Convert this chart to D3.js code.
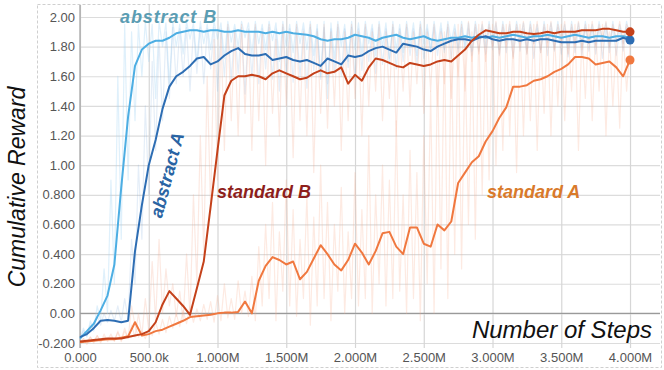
<!DOCTYPE html>
<html><head><meta charset="utf-8">
<script src="https://cdnjs.cloudflare.com/ajax/libs/d3/7.8.5/d3.min.js"></script>
<style>
html,body{margin:0;padding:0;background:#fff;}
svg{display:block;}
</style></head>
<body><svg id="c" width="664" height="370"></svg>
<script>
// ---- data ----
const smoothStep = 50000;   // spacing of smoothed series (steps)
const rawStep = 25000;      // spacing of raw series (steps)

const seriesNames = ["abstract B", "abstract A", "standard A", "standard B"];

const abstractB = [-0.17,-0.12,-0.07,0.02,0.12,0.33,0.85,1.33,1.67,1.78,1.82,1.84,1.84,1.86,1.89,1.90,1.91,1.91,1.90,1.91,
1.91,1.90,1.90,1.91,1.90,1.90,1.90,1.89,1.90,1.89,1.90,1.89,1.885,1.88,1.87,1.85,1.84,1.85,1.85,1.86,
1.88,1.87,1.86,1.84,1.86,1.87,1.88,1.86,1.85,1.86,1.87,1.85,1.84,1.85,1.86,1.86,1.87,1.86,1.87,1.86,
1.87,1.86,1.87,1.88,1.87,1.86,1.87,1.87,1.88,1.87,1.86,1.87,1.88,1.87,1.86,1.87,1.87,1.86,1.87,1.87,1.86];

const abstractA = [-0.16,-0.14,-0.10,-0.05,-0.045,-0.05,-0.06,-0.05,0.42,0.73,1.00,1.17,1.38,1.53,1.60,1.63,1.67,1.72,1.73,1.68,
1.70,1.74,1.77,1.79,1.75,1.74,1.74,1.75,1.71,1.72,1.73,1.71,1.70,1.71,1.69,1.67,1.72,1.70,1.68,1.74,
1.73,1.74,1.77,1.79,1.80,1.78,1.76,1.82,1.81,1.80,1.78,1.77,1.80,1.82,1.84,1.85,1.85,1.84,1.86,1.87,
1.85,1.84,1.85,1.85,1.84,1.85,1.84,1.85,1.85,1.84,1.83,1.83,1.83,1.84,1.83,1.84,1.84,1.84,1.84,1.86,1.845];

const standardB = [-0.19,-0.185,-0.18,-0.175,-0.17,-0.17,-0.17,-0.16,-0.15,-0.14,-0.12,-0.06,0.06,0.15,0.10,0.05,-0.01,0.17,0.35,0.72,
1.10,1.47,1.57,1.60,1.60,1.61,1.60,1.58,1.62,1.64,1.62,1.60,1.58,1.59,1.62,1.64,1.62,1.63,1.66,1.55,
1.61,1.57,1.66,1.72,1.71,1.69,1.67,1.66,1.69,1.68,1.67,1.68,1.70,1.71,1.70,1.74,1.78,1.84,1.88,1.91,
1.90,1.89,1.89,1.90,1.90,1.89,1.885,1.89,1.90,1.89,1.90,1.90,1.90,1.91,1.91,1.91,1.92,1.92,1.91,1.90,1.90];

const standardA = [-0.195,-0.19,-0.185,-0.18,-0.175,-0.175,-0.165,-0.155,-0.06,-0.15,-0.14,-0.12,-0.11,-0.09,-0.07,-0.05,-0.025,-0.02,-0.015,-0.01,
0.0,0.005,0.005,0.01,0.08,0.0,0.22,0.32,0.38,0.36,0.33,0.35,0.23,0.28,0.37,0.46,0.40,0.33,0.29,0.36,
0.47,0.41,0.33,0.42,0.54,0.55,0.45,0.40,0.58,0.58,0.47,0.45,0.60,0.56,0.62,0.88,0.95,1.02,1.06,1.16,
1.23,1.32,1.39,1.53,1.53,1.54,1.57,1.58,1.60,1.63,1.65,1.68,1.73,1.73,1.72,1.68,1.69,1.70,1.66,1.60,1.71];

const abstractBRaw = [-0.18,-0.10,-0.16,-0.05,-0.12,0.05,-0.05,0.30,0.00,0.90,0.20,1.60,0.50,1.95,0.90,1.90,1.30,1.95,1.60,1.97,1.70,1.95,1.45,1.97,1.80,
1.96,1.55,1.97,1.80,1.95,1.75,1.97,1.85,1.96,1.70,1.97,1.82,1.95,1.78,1.97,1.85,1.96,1.72,1.97,1.83,1.95,1.80,1.97,1.86,1.96,
1.75,1.97,1.82,1.95,1.78,1.97,1.84,1.96,1.70,1.97,1.80,1.95,1.76,1.97,1.82,1.96,1.78,1.97,1.74,1.95,1.60,1.97,1.45,1.96,1.72,
1.97,1.80,1.95,1.70,1.97,1.78,1.96,1.75,1.97,1.82,1.95,1.74,1.97,1.80,1.96,1.68,1.97,1.78,1.95,1.76,1.97,1.80,1.96,1.74,1.97,
1.82,1.95,1.78,1.97,1.80,1.96,1.76,1.97,1.83,1.95,1.79,1.97,1.81,1.96,1.77,1.97,1.84,1.95,1.80,1.97,1.82,1.96,1.78,1.97,1.83,
1.95,1.80,1.97,1.84,1.96,1.79,1.97,1.82,1.95,1.78,1.97,1.83,1.96,1.80,1.97,1.84,1.95,1.79,1.97,1.82,1.96,1.80,1.97,1.83,1.95,
1.81,1.97,1.84,1.96,1.80,1.97,1.83,1.95,1.82,1.97,1.86];

const abstractARaw = [-0.17,-0.12,-0.15,-0.08,-0.10,-0.02,-0.08,0.00,-0.06,0.02,-0.05,0.05,-0.06,0.10,-0.04,0.50,0.20,1.00,0.50,1.40,0.80,1.70,1.10,1.85,1.30,
1.90,1.45,1.93,1.55,1.92,1.60,1.93,1.50,1.92,1.62,1.93,1.55,1.92,1.65,1.93,1.50,1.92,1.60,1.93,1.58,1.92,1.62,1.93,1.48,1.92,
1.60,1.93,1.55,1.92,1.65,1.93,1.58,1.92,1.50,1.93,1.62,1.92,1.56,1.93,1.60,1.92,1.52,1.93,1.64,1.92,1.58,1.93,1.55,1.92,1.62,
1.93,1.60,1.92,1.66,1.93,1.58,1.92,1.64,1.93,1.70,1.92,1.62,1.93,1.68,1.92,1.72,1.93,1.65,1.92,1.70,1.93,1.74,1.92,1.68,1.93,
1.72,1.92,1.76,1.93,1.74,1.92,1.78,1.93,1.72,1.92,1.76,1.93,1.78,1.92,1.74,1.93,1.77,1.92,1.75,1.93,1.78,1.92,1.74,1.93,1.76,
1.92,1.73,1.93,1.77,1.92,1.75,1.93,1.72,1.92,1.76,1.93,1.74,1.92,1.77,1.93,1.75,1.92,1.73,1.93,1.76,1.92,1.74,1.93,1.77,1.92,
1.75,1.93,1.72,1.92,1.76,1.93,1.74,1.92,1.77,1.93,1.80];

const standardBRaw = [-0.20,-0.17,-0.19,-0.16,-0.20,-0.15,-0.19,-0.16,-0.18,-0.14,-0.19,-0.12,-0.18,-0.10,-0.17,-0.08,-0.16,0.00,-0.15,0.10,-0.12,0.35,-0.05,0.50,0.00,
0.30,0.05,0.20,-0.02,0.15,-0.05,0.40,-0.02,0.80,0.20,1.20,0.40,1.60,0.70,1.85,0.90,1.90,1.10,1.95,1.30,1.90,1.20,1.95,1.35,1.90,
1.10,1.95,1.30,1.90,1.00,1.95,1.35,1.85,1.20,1.95,1.40,1.90,1.05,1.95,1.30,1.90,1.20,1.95,0.95,1.90,1.35,1.95,1.25,1.90,1.40,
1.95,1.10,1.90,1.30,1.95,1.45,1.90,1.20,1.95,1.40,1.90,1.50,1.95,1.30,1.90,1.45,1.95,1.20,1.90,1.50,1.95,1.40,1.90,1.55,1.95,
1.35,1.90,1.50,1.95,1.40,1.90,1.55,1.95,1.45,1.90,1.60,1.95,1.50,1.97,1.70,1.95,1.75,1.97,1.70,1.95,1.80,1.97,1.75,1.95,1.80,
1.97,1.72,1.95,1.80,1.97,1.75,1.95,1.82,1.97,1.76,1.95,1.80,1.97,1.78,1.95,1.82,1.97,1.75,1.95,1.80,1.97,1.78,1.95,1.82,1.97,
1.80,1.95,1.84,1.97,1.80,1.95,1.84,1.97,1.82,1.95,1.90];

const standardARaw = [-0.20,-0.17,-0.21,-0.16,-0.19,-0.15,-0.20,-0.14,-0.19,-0.16,-0.18,-0.13,-0.19,-0.12,-0.17,0.05,-0.08,-0.16,-0.12,-0.17,-0.10,-0.15,-0.06,-0.14,-0.04,
-0.13,-0.02,-0.10,0.00,-0.09,0.02,-0.07,0.05,-0.06,0.03,-0.05,0.06,-0.04,0.08,-0.06,0.12,-0.05,0.20,-0.03,0.10,-0.04,0.22,0.00,0.15,-0.02,
0.25,-0.05,0.45,0.05,0.60,0.10,0.75,-0.05,0.55,0.15,0.90,0.05,0.70,-0.02,0.50,0.10,0.80,-0.08,0.65,0.05,1.00,0.10,0.75,-0.05,0.60,
0.15,0.85,0.00,0.55,0.10,0.95,0.05,0.70,0.10,1.20,0.00,0.80,0.20,1.00,0.05,0.90,0.10,1.30,0.15,0.80,0.00,1.10,0.10,0.95,-0.05,
1.20,0.20,1.50,0.00,1.70,0.30,1.90,0.10,1.85,0.40,1.95,0.30,1.80,0.60,1.90,0.50,1.95,0.80,1.90,0.90,1.95,1.00,1.90,1.10,1.95,
1.20,1.85,0.95,1.95,1.20,1.90,1.30,1.95,1.10,1.90,1.35,1.95,1.20,1.90,1.40,1.95,1.30,1.90,1.50,1.95,1.10,1.90,1.45,1.95,1.30,
1.90,1.50,1.95,1.20,1.90,1.40,1.85,1.25,1.90,1.50,1.80];

const yTickValues = [-0.2,0,0.2,0.4,0.6,0.8,1.0,1.2,1.4,1.6,1.8,2.0];
const yTickLabels = ["-0.200","0.00","0.200","0.400","0.600","0.800","1.00","1.20","1.40","1.60","1.80","2.00"];
const xTickValues = [0,500000,1000000,1500000,2000000,2500000,3000000,3500000,4000000];
const xTickLabels = ["0.000","500.0k","1.000M","1.500M","2.000M","2.500M","3.000M","3.500M","4.000M"];

// ---- drawing ----
const svg = d3.select("#c");
const x = d3.scaleLinear().domain([0, 4218000]).range([80, 660]);
const y = d3.scaleLinear().domain([-0.2, 2.0]).range([343, 17]);
const font = "'Liberation Sans', Arial, sans-serif";

// outer dashed frame
svg.append("rect").attr("x",37.5).attr("y",4.5).attr("width",624).attr("height",363)
  .attr("fill","none").attr("stroke","#cfcfcf").attr("stroke-dasharray","3,2");

// y axis with gridlines
const gy = svg.append("g").attr("transform","translate(80,0)")
  .call(d3.axisLeft(y).tickValues(yTickValues).tickFormat((d,i)=>yTickLabels[i]).tickSize(-580).tickPadding(5));
gy.select(".domain").remove();
gy.selectAll(".tick line").attr("stroke","#dcdcdc").attr("stroke-width",1.2);
gy.selectAll(".tick text").attr("fill","#555").style("font-family",font).style("font-size","13px");

// x axis with gridlines
const gx = svg.append("g").attr("transform","translate(0,348)")
  .call(d3.axisBottom(x).tickValues(xTickValues).tickFormat((d,i)=>xTickLabels[i]).tickSize(-343).tickPadding(5));
gx.select(".domain").remove();
gx.selectAll(".tick line").attr("stroke","#d6d6d6").attr("stroke-width",1.2);
gx.selectAll(".tick text").attr("fill","#555").style("font-family",font).style("font-size","13px");

// zero line and y axis line
svg.append("line").attr("x1",80).attr("x2",660).attr("y1",y(0)).attr("y2",y(0)).attr("stroke","#9a9a9a").attr("stroke-width",1.2);
svg.append("line").attr("x1",x(0)).attr("x2",x(0)).attr("y1",5).attr("y2",348).attr("stroke","#a0a0a0").attr("stroke-width",1.2);

const raws = [
  {data: abstractBRaw, color: "rgba(160,210,242,0.34)"},
  {data: abstractARaw, color: "rgba(110,160,215,0.18)"},
  {data: standardBRaw, color: "rgba(242,165,135,0.24)"},
  {data: standardARaw, color: "rgba(246,172,142,0.26)"}
];
const rawLine = d3.line().x((d,i)=>x(i*rawStep)).y(d=>y(d));
raws.forEach(r=>{
  svg.append("path").datum(r.data).attr("d",rawLine).attr("fill","none")
    .attr("stroke",r.color).attr("stroke-width",1.2).attr("stroke-linejoin","round");
});

const smooth = [
  {name: seriesNames[0], data: abstractB, color: "#4daee3", dot:false},
  {name: seriesNames[1], data: abstractA, color: "#2d6db3", dot:true},
  {name: seriesNames[2], data: standardA, color: "#f0783f", dot:true},
  {name: seriesNames[3], data: standardB, color: "#c4411a", dot:true}
];
const sLine = d3.line().x((d,i)=>x(i*smoothStep)).y(d=>y(d));
smooth.forEach(s=>{
  svg.append("path").datum(s.data).attr("d",sLine).attr("fill","none")
    .attr("stroke",s.color).attr("stroke-width",2).attr("stroke-linejoin","round");
});
smooth.filter(s=>s.dot).forEach(s=>{
  const n = s.data.length-1;
  svg.append("circle").attr("cx",x(n*smoothStep)).attr("cy",y(s.data[n])).attr("r",4.5).attr("fill",s.color);
});

// series labels
const lab = svg.append("g").style("font-family",font).style("font-weight","bold").style("font-style","italic").style("font-size","18px");
lab.append("text").attr("x",120).attr("y",23).attr("fill","#5b9db3").style("letter-spacing","0.9px").text(seriesNames[0]);
lab.append("text").attr("transform","translate(167,175) rotate(-75)").attr("text-anchor","middle").attr("dy","0.35em")
  .attr("fill","#2a64a3").text(seriesNames[1]);
lab.append("text").attr("x",217).attr("y",198).attr("fill","#8e1f1c").text(seriesNames[3]);
lab.append("text").attr("x",487).attr("y",198).attr("fill","#d97a2b").text(seriesNames[2]);

// axis titles
svg.append("text").attr("transform","translate(25,187) rotate(-90)").attr("text-anchor","middle")
  .style("font-family",font).style("font-style","italic").style("font-size","23px").attr("fill","#111").text("Cumulative Reward");
svg.append("text").attr("x",652).attr("y",338).attr("text-anchor","end")
  .style("font-family",font).style("font-style","italic").style("font-size","24px").attr("fill","#111").text("Number of Steps");
</script></body></html>
